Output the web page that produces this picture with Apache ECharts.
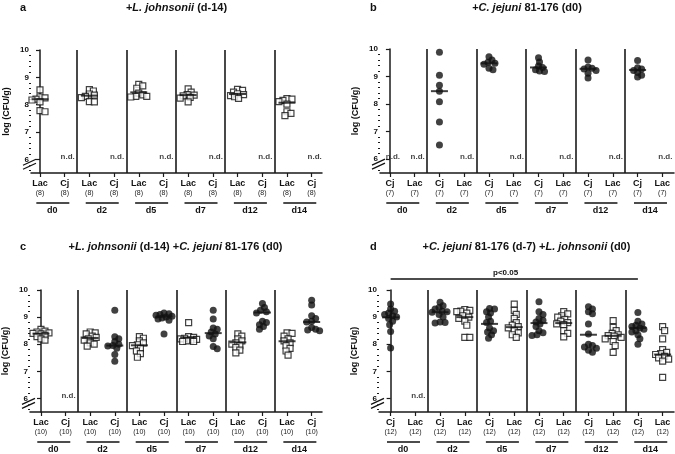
<!DOCTYPE html>
<html><head><meta charset="utf-8">
<script src="https://cdn.jsdelivr.net/npm/echarts@6/dist/echarts.min.js"></script>
<style>html,body{margin:0;padding:0;background:#fff}#c{width:675px;height:454px}</style>
</head><body><div id="c"></div>
<script>
const FONT = 'Liberation Sans, Arial, sans-serif';
const days = ['d0','d2','d5','d7','d12','d14'];
const yTicks = [6,7,8,9,10];

// ---- panel a : +L. johnsonii (d-14) ----
const aOrder = ['Lac','Cj'];
const aN = 8;
const aLac = [
  [8.54,8.28,8.25,8.2,8.17,8.1,7.78,7.74],
  [8.55,8.5,8.39,8.35,8.3,8.26,8.11,8.1],
  [8.74,8.69,8.6,8.42,8.36,8.3,8.3,8.28],
  [8.58,8.46,8.37,8.35,8.32,8.27,8.24,8.1],
  [8.56,8.52,8.46,8.4,8.37,8.33,8.29,8.23],
  [8.22,8.2,8.16,8.11,8.02,7.74,7.68,7.6]
];
const aLacMed = [8.2,8.33,8.45,8.35,8.39,8.07];
const aCj = [null,null,null,null,null,null];
const aCjMed = [null,null,null,null,null,null];

// ---- panel b : +C. jejuni 81-176 (d0) ----
const bOrder = ['Cj','Lac'];
const bN = 7;
const bCj = [
  null,
  [9.88,9.05,8.68,8.47,8.09,7.35,6.52],
  [9.72,9.6,9.52,9.48,9.45,9.3,9.25],
  [9.68,9.53,9.38,9.33,9.25,9.2,9.18],
  [9.6,9.35,9.3,9.27,9.22,9.12,8.95],
  [9.58,9.32,9.27,9.22,9.15,9.05,8.98]
];
const bCjMed = [null,8.47,9.48,9.33,9.28,9.24];
const bLac = [null,null,null,null,null,null];
const bLacMed = [null,null,null,null,null,null];

// ---- panel c : +L. johnsonii (d-14) +C. jejuni 81-176 (d0) ----
const cOrder = ['Lac','Cj'];
const cN = 10;
const cLac = [
  [8.55,8.48,8.45,8.42,8.4,8.38,8.33,8.28,8.2,8.15],
  [8.45,8.42,8.38,8.3,8.25,8.2,8.15,8.05,8.0,7.93],
  [8.28,8.22,8.12,8.05,7.98,7.95,7.85,7.75,7.65,7.52],
  [8.8,8.28,8.25,8.22,8.2,8.18,8.15,8.12,8.1,8.1],
  [8.38,8.3,8.2,8.12,8.05,8.0,7.95,7.88,7.78,7.68],
  [8.42,8.4,8.3,8.2,8.12,8.05,7.95,7.85,7.75,7.6]
];
const cLacMed = [8.39,8.23,7.96,8.25,8.07,8.11];
const cCj = [
  null,
  [9.25,8.28,8.2,8.1,8.0,7.95,7.93,7.85,7.62,7.37],
  [9.15,9.12,9.1,9.07,9.03,9.0,8.97,8.93,8.88,8.38],
  [9.25,8.93,8.6,8.55,8.45,8.38,8.3,8.2,7.92,7.83],
  [9.5,9.35,9.25,9.2,9.15,8.85,8.8,8.72,8.65,8.55],
  [9.62,9.45,9.05,8.95,8.85,8.82,8.62,8.55,8.52,8.5]
];
const cCjMed = [null,7.95,9.02,8.41,9.17,8.82];

// ---- panel d : +C. jejuni 81-176 (d-7) +L. johnsonii (d0) ----
const dOrder = ['Cj','Lac'];
const dN = 12;
const dCj = [
  [9.48,9.3,9.22,9.15,9.1,9.05,9.0,8.95,8.85,8.72,8.47,7.86],
  [9.55,9.42,9.35,9.3,9.22,9.2,9.18,9.1,9.0,8.82,8.8,8.78],
  [9.32,9.3,9.2,9.15,9.0,8.85,8.8,8.6,8.5,8.45,8.35,8.22],
  [9.57,9.2,9.1,8.95,8.88,8.82,8.75,8.65,8.5,8.42,8.35,8.32],
  [9.38,9.3,9.2,9.12,8.75,8.38,8.0,7.95,7.9,7.85,7.78,7.7],
  [9.17,8.85,8.75,8.7,8.65,8.6,8.55,8.5,8.45,8.35,8.2,8.0]
];
const dCjMed = [8.99,9.18,8.75,8.78,8.35,8.6];
const dLac = [
  null,
  [9.28,9.25,9.22,9.2,9.15,9.05,9.0,8.95,8.85,8.7,8.25,8.25],
  [9.48,9.25,9.1,8.95,8.8,8.7,8.65,8.6,8.5,8.42,8.35,8.25],
  [9.2,9.12,9.05,9.0,8.92,8.85,8.8,8.75,8.72,8.5,8.4,8.27],
  [8.87,8.62,8.5,8.4,8.35,8.32,8.3,8.25,8.2,8.1,7.95,7.7],
  [8.65,8.5,8.2,7.8,7.7,7.65,7.62,7.55,7.5,7.45,7.38,6.78]
];
const dLacMed = [null,9.0,8.63,8.78,8.31,7.62];
const dSig = {from: 0, to: 10, labelAt: 4.65, text: 'p<0.05'};

const ndValue = 6.1;
const yMin = 5.5, yMax = 10;

const titles = [
  {letter:'a', text:'+{i|L. johnsonii} (d-14)'},
  {letter:'b', text:'+{i|C. jejuni} 81-176 (d0)'},
  {letter:'c', text:'+{i|L. johnsonii} (d-14) +{i|C. jejuni} 81-176 (d0)'},
  {letter:'d', text:'+{i|C. jejuni} 81-176 (d-7) +{i|L. johnsonii} (d0)'}
];

const panels = [
  {grid:{left:31,top:50,width:291,height:123}, xmin:-0.364, xmax:11.42, order:aOrder, n:aN,
   vals:{Lac:aLac, Cj:aCj}, med:{Lac:aLacMed, Cj:aCjMed}, letterX:20, titleY:2},
  {grid:{left:380,top:49,width:294,height:124}, xmin:-0.4, xmax:11.47, order:bOrder, n:bN,
   vals:{Lac:bLac, Cj:bCj}, med:{Lac:bLacMed, Cj:bCjMed}, letterX:370, titleY:2},
  {grid:{left:29,top:290,width:293,height:122}, xmin:-0.446, xmax:11.42, order:cOrder, n:cN,
   vals:{Lac:cLac, Cj:cCj}, med:{Lac:cLacMed, Cj:cCjMed}, letterX:20, titleY:241},
  {grid:{left:379,top:290,width:295,height:122}, xmin:-0.47, xmax:11.46, order:dOrder, n:dN,
   vals:{Lac:dLac, Cj:dCj}, med:{Lac:dLacMed, Cj:dCjMed}, letterX:370, titleY:241, sig:dSig}
];

// tight beeswarm: offsets capped so points overlap like the original dot plot
function swarm(vals, cx, pxX, pxY) {
  const D = 4.2, cap = 8, step = 1;
  const cands = [0];
  for (let s=step; s<=cap; s+=step) { cands.push(s, -s); }
  const idx = vals.map((v,i)=>i).sort((a,b)=>vals[b]-vals[a]);
  const placed = [];
  const out = new Array(vals.length);
  for (const i of idx) {
    const y = vals[i]*pxY;
    let best = null, bestD = -1;
    for (const c of cands) {
      const md = placed.length ? Math.min(...placed.map(p=>Math.hypot(p[0]-c,p[1]-y))) : Infinity;
      if (md >= D) { best = c; break; }
      if (md > bestD) { bestD = md; best = c; }
    }
    placed.push([best,y]);
    out[i] = [cx + best/pxX, vals[i]];
  }
  return out;
}

const option = {
  animation:false,
  backgroundColor:'#fff',
  title:[], grid:[], xAxis:[], yAxis:[], series:[]
};

panels.forEach((p, gi) => {
  const g = p.grid;
  option.grid.push(Object.assign({containLabel:false}, g));
  const pxX = g.width/(p.xmax-p.xmin), pxY = g.height/(yMax-yMin);
  const ticks = []; for (let i=0;i<12;i++) ticks.push(i);
  option.xAxis.push({
    type:'value', gridIndex:gi, min:p.xmin, max:p.xmax,
    axisLine:{show:true, onZero:false, lineStyle:{color:'#1a1a1a', width:1.5}},
    axisTick:{show:true, customValues:ticks, length:4, lineStyle:{color:'#1a1a1a', width:1.2}},
    splitLine:{show:false},
    axisLabel:{show:true, customValues:ticks, margin:5, interval:0,
      formatter:(v)=>'{c|'+p.order[Math.round(v)%2]+'}\n{n|('+p.n+')}',
      rich:{c:{fontSize:9,fontWeight:'bold',lineHeight:11,fontFamily:FONT,color:'#111'},
            n:{fontSize:7,lineHeight:9,fontFamily:FONT,color:'#222'}}}
  });
  const minor=[]; for (let v=56;v<=100;v+=2){ if (v%10) minor.push(v/10); }
  option.yAxis.push({
    type:'value', gridIndex:gi, min:yMin, max:yMax,
    name:'log (CFU/g)', nameLocation:'middle', nameGap:20,
    nameTextStyle:{fontSize:9,fontWeight:'bold',fontFamily:FONT,color:'#111'},
    axisLine:{show:true, lineStyle:{color:'#1a1a1a', width:1.5}},
    axisTick:{show:true, customValues:yTicks, length:4, lineStyle:{color:'#1a1a1a', width:1.2}},
    axisLabel:{show:true, customValues:yTicks, margin:2, fontSize:8, fontWeight:'bold', fontFamily:FONT, color:'#111'},
    splitLine:{show:false}
  });
  option.yAxis.push({
    type:'value', gridIndex:gi, min:yMin, max:yMax, position:'left',
    axisLine:{show:false},
    axisTick:{show:true, customValues:minor, length:2, lineStyle:{color:'#1a1a1a', width:1}},
    axisLabel:{show:false}, splitLine:{show:false}
  });
  const yMain = option.yAxis.length-2;

  option.title.push({text:titles[gi].letter, left:p.letterX, top:p.titleY, padding:0,
    textStyle:{fontSize:11,fontWeight:'bold',fontFamily:FONT,color:'#111'}});
  option.title.push({text:titles[gi].text, left:g.left+g.width/2, textAlign:'center', top:p.titleY, padding:0,
    textStyle:{fontSize:11,fontWeight:'bold',fontFamily:FONT,color:'#111',
      rich:{i:{fontSize:11,fontWeight:'bold',fontStyle:'italic',fontFamily:FONT,color:'#111'}}}});

  const sq=[], ci=[], meds=[], nd=[];
  for (let k=0;k<6;k++){
    p.order.forEach((name, j) => {
      const xi = 2*k+j;
      const v = p.vals[name][k];
      if (v) {
        const pts = swarm(v, xi, pxX, pxY);
        (name==='Lac'?sq:ci).push(...pts);
        meds.push([xi, p.med[name][k]]);
      } else {
        nd.push([xi, ndValue]);
      }
    });
  }
  const base = {xAxisIndex:gi, yAxisIndex:yMain, silent:true};
  option.series.push(Object.assign({type:'scatter', data:sq, symbol:'rect', symbolSize:6, z:3,
    itemStyle:{color:'#fff', borderColor:'#111', borderWidth:1.2}}, base));
  option.series.push(Object.assign({type:'scatter', data:ci, symbol:'circle', symbolSize:7, z:3,
    itemStyle:{color:'#111'}}, base));
  option.series.push(Object.assign({type:'scatter', data:meds, symbol:'rect', symbolSize:[17,2], z:5,
    itemStyle:{color:'#111'},
    markLine:{silent:true, symbol:['none','none'], label:{show:false},
      lineStyle:{color:'#1a1a1a', width:1.6, type:'solid'},
      data:[1.5,3.5,5.5,7.5,9.5].map(x=>({xAxis:x}))}}, base));
  option.series.push(Object.assign({type:'scatter', data:nd, symbolSize:0, z:4,
    label:{show:true, position:'inside', offset:[3,0], formatter:'n.d.', fontSize:8, fontWeight:'bold', fontFamily:FONT, color:'#111'}}, base));
  option.series.push(Object.assign({type:'custom', clip:false, z:6,
    data: days.map((d,k)=>[2*k+0.5, yMin, k]),
    renderItem:(params, api)=>{
      const c = api.coord([api.value(0), api.value(1)]);
      const k = api.value(2);
      return {type:'group', children:[
        {type:'line', shape:{x1:c[0]-16, y1:c[1]+30, x2:c[0]+17, y2:c[1]+30}, style:{stroke:'#111', lineWidth:1.5}},
        {type:'text', style:{text:days[k], x:c[0], y:c[1]+38, align:'center', verticalAlign:'middle',
          fontSize:9, fontWeight:'bold', fontFamily:FONT, fill:'#111'}}
      ]};
    }}, base));
  option.series.push(Object.assign({type:'custom', clip:false, z:7,
    data:[[p.xmin, 5.82]],
    renderItem:(params, api)=>{
      const c = api.coord([api.value(0), api.value(1)]);
      return {type:'group', children:[
        {type:'rect', shape:{x:c[0]-2, y:c[1]-2.5, width:4, height:3.5}, style:{fill:'#fff'}},
        {type:'line', shape:{x1:c[0]-8, y1:c[1]+1, x2:c[0]+5, y2:c[1]-5}, style:{stroke:'#111', lineWidth:1.3}},
        {type:'line', shape:{x1:c[0]-8, y1:c[1]+5, x2:c[0]+5, y2:c[1]-1}, style:{stroke:'#111', lineWidth:1.3}}
      ]};
    }}, base));
  if (p.sig) {
    option.series.push(Object.assign({type:'custom', clip:false, z:6,
      data:[[p.sig.from, yMax, p.sig.to, p.sig.labelAt]],
      renderItem:(params, api)=>{
        const a = api.coord([api.value(0), api.value(1)]);
        const b = api.coord([api.value(2), api.value(1)]);
        const t = api.coord([api.value(3), api.value(1)]);
        return {type:'group', children:[
          {type:'line', shape:{x1:a[0], y1:a[1]-11, x2:b[0], y2:b[1]-11}, style:{stroke:'#111', lineWidth:1.5}},
          {type:'text', style:{text:p.sig.text, x:t[0], y:t[1]-17, align:'center', verticalAlign:'middle',
            fontSize:8, fontWeight:'bold', fontFamily:FONT, fill:'#111'}}
        ]};
      }}, base));
  }
});

const chart = echarts.init(document.getElementById('c'), null, {renderer:'canvas'});
chart.setOption(option);
</script>
</body></html>
